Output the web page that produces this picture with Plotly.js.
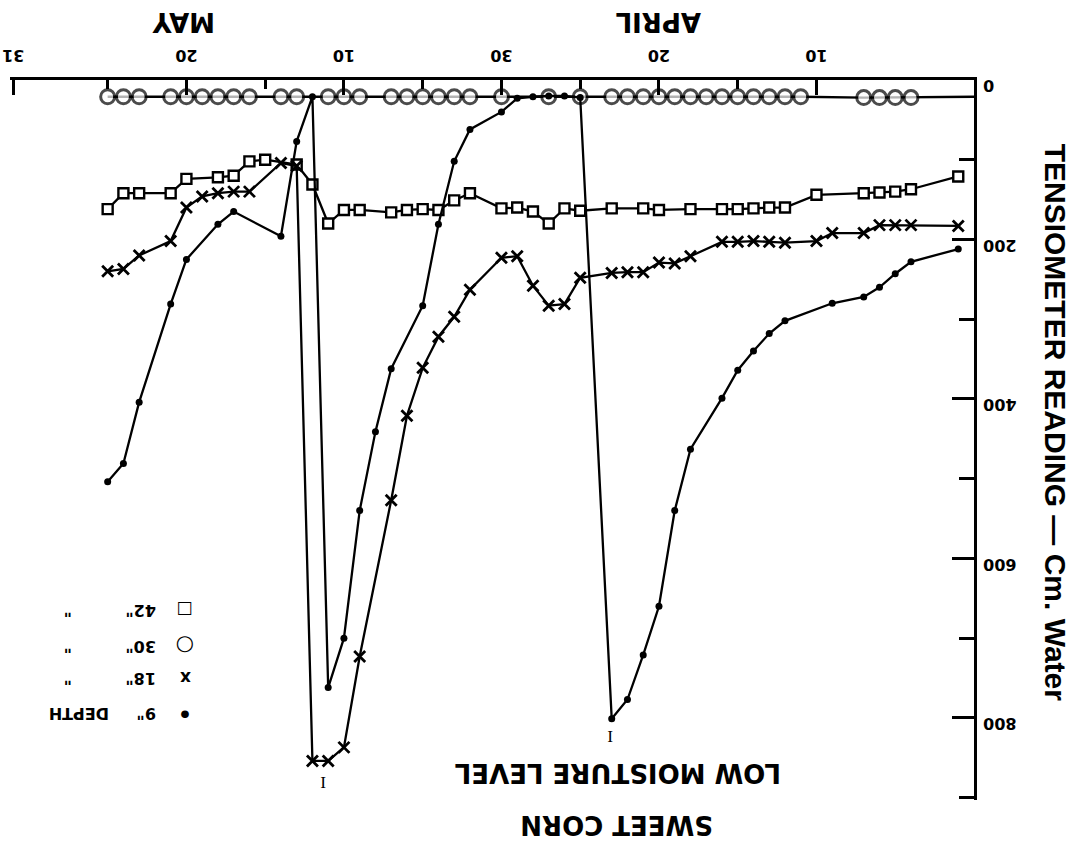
<!DOCTYPE html>
<html>
<head>
<meta charset="utf-8">
<script src="https://cdn.plot.ly/plotly-3.0.1.min.js"></script>
<style>
html, body { margin: 0; padding: 0; background: #ffffff; overflow: hidden; }
#chart { width: 1074px; height: 855px; transform: rotate(180deg); transform-origin: 50% 50%; }
</style>
</head>
<body>
<div id="chart"></div>
<script>
// Day index: April d -> d, May d -> 30 + d
const days9 = [1,4,5,6,7,9,12,13,14,15,16,18,19,20,21,22,23,25,26,27,28,29,30,32,33,34,35,37,38,39,40,41,42,43,44,47,48,50,51,53,54,55];
const depth9 = [212,228,243,260,272,280,302,318,340,364,399,463,540,660,721,777,801,22,20,20,21,23,40,62,102,181,283,362,441,540,700,762,21,77,196,165,181,225,281,404,481,504];

const days18 = [1,4,5,6,7,9,10,12,13,14,15,16,18,19,20,21,22,23,25,26,27,28,29,30,32,33,34,35,36,37,39,40,41,42,43,44,46,47,48,49,50,51,53,54,55];
const depth18 = [183,182,182,182,192,192,202,204,203,202,203,203,221,230,229,241,241,242,248,281,283,258,221,223,263,297,322,361,421,527,723,837,854,854,108,104,140,140,142,146,160,202,220,237,240];

const days30 = [0,4,5,6,7,11,12,13,14,15,16,17,18,19,20,21,22,23,25,27,30,32,33,34,35,36,37,39,40,41,43,44,46,47,48,49,50,51,53,54,55];
const depth30 = [21,22,22,22,22,21,21,21,21,21,21,21,21,21,21,21,21,21,21,21,21,21,21,21,21,21,21,21,21,21,21,21,21,21,21,21,21,21,21,21,21];

const days42 = [1,4,5,6,7,10,12,13,14,15,16,18,20,21,23,25,26,27,28,29,30,32,33,34,35,36,37,39,40,41,42,43,45,46,47,48,50,51,53,54,55];
const depth42 = [121,137,140,141,142,144,160,160,161,162,162,162,163,161,161,164,161,180,165,160,161,142,151,163,162,163,166,163,163,180,131,106,100,102,120,122,124,142,142,142,162];

const xTickVals = [10,20,30,40,50,61];
const xTickText = ['10','20','30','10','20','31'];
const xMinorVals = [15,25,35,45,55];
const yTickVals = [0,200,400,600,800];
const yTickText = ['0','200','400','600','800'];
const yMinorVals = [100,300,500,700,900];

const months = ['APRIL','MAY'];
const monthCenters = [20,50.2];

const legendSymbols = ['•','x','○','□'];
const legendDepths = ['9"','18"','30"','42"'];
const legendSuffix = ['DEPTH','"','"','"'];

const irrigationDays = [23, 41];

const titleMain = 'SWEET CORN';
const titleSub = 'LOW MOISTURE LEVEL';
const yTitle = 'TENSIOMETER READING — Cm. Water';

const BLACK = '#000000';
const LW = 2.3;

const traces = [
  {
    name: '42" depth', x: days42, y: depth42, type: 'scatter', mode: 'lines+markers',
    line: {color: BLACK, width: LW},
    marker: {symbol: 'square', size: 10, color: '#ffffff', line: {color: BLACK, width: 2.4}}
  },
  {
    name: '30" depth', x: days30, y: depth30, type: 'scatter', mode: 'lines+markers',
    line: {color: BLACK, width: LW},
    marker: {symbol: 'circle', size: days30.map(d => d > 0 ? 14 : 0), color: '#ffffff', line: {color: BLACK, width: 3}}
  },
  {
    name: '18" depth', x: days18, y: depth18, type: 'scatter', mode: 'lines+markers',
    line: {color: BLACK, width: LW},
    marker: {symbol: 'x-thin', size: 11, color: BLACK, line: {color: BLACK, width: 2.8}}
  },
  {
    name: '9" depth', x: days9, y: depth9, type: 'scatter', mode: 'lines+markers',
    line: {color: BLACK, width: LW},
    marker: {symbol: 'circle', size: 7, color: BLACK}
  }
];

const annotations = [];
// titles
annotations.push({text: titleMain, xref: 'x', yref: 'paper', x: 22.7, y: 1.035, showarrow: false,
  xanchor: 'center', yanchor: 'middle', font: {family: 'DejaVu Sans', size: 26, color: BLACK, weight: 'bold'}});
annotations.push({text: titleSub, xref: 'x', yref: 'y', x: 22.6, y: 869, showarrow: false,
  xanchor: 'center', yanchor: 'middle', font: {family: 'DejaVu Sans', size: 26, color: BLACK, weight: 'bold'}});
// y axis title
annotations.push({text: yTitle, xref: 'paper', yref: 'paper', x: -0.085, y: 0.476, textangle: -90, showarrow: false,
  xanchor: 'center', yanchor: 'middle', font: {family: 'Liberation Sans', size: 30, color: BLACK, weight: 'bold'}});
// months
months.forEach((m, i) => annotations.push({text: m, xref: 'x', yref: 'paper', x: monthCenters[i], y: -0.081,
  showarrow: false, xanchor: 'center', yanchor: 'middle', font: {family: 'DejaVu Sans', size: 26, color: BLACK, weight: 'bold'}}));
// legend
const legendY = [794, 750, 710, 665];
legendSymbols.forEach((s, i) => {
  annotations.push({text: s, xref: 'x', yref: 'y', x: 50.06, y: legendY[i], showarrow: false, xanchor: 'center', yanchor: 'middle',
    font: {family: 'DejaVu Sans', size: i === 0 ? 22 : (i === 2 ? 21 : 17), color: BLACK, weight: 'bold'}});
  annotations.push({text: legendDepths[i], xref: 'x', yref: 'y', x: 51.8, y: legendY[i], showarrow: false, xanchor: 'left', yanchor: 'middle',
    font: {family: 'DejaVu Sans', size: 16, color: BLACK, weight: 'bold'}});
  annotations.push({text: legendSuffix[i], xref: 'x', yref: 'y', x: i === 0 ? 54.8 : 57.5, y: legendY[i], showarrow: false,
    xanchor: i === 0 ? 'left' : 'center', yanchor: 'middle',
    font: {family: 'DejaVu Sans', size: 16, color: BLACK, weight: 'bold'}});
});
// irrigation marks
irrigationDays.forEach((d, i) => {
  const src = i === 0 ? {x: days9, y: depth9} : {x: days18, y: depth18};
  const v = src.y[src.x.indexOf(d)];
  annotations.push({text: 'I', xref: 'x', yref: 'y', x: d, y: v, yshift: i === 0 ? 18 : 22, xshift: i === 0 ? 2 : 5, showarrow: false,
    xanchor: 'center', yanchor: 'middle', font: {family: 'Liberation Serif', size: 17, color: BLACK}});
});

const axisFont = {family: 'DejaVu Sans', size: 16, color: BLACK, weight: 'bold'};

const layout = {
  width: 1074, height: 855,
  margin: {l: 100, r: 10, t: 55, b: 80},
  paper_bgcolor: '#ffffff', plot_bgcolor: '#ffffff',
  showlegend: false,
  xaxis: {
    range: [0, 61.2], showgrid: false, zeroline: false, showline: true, linecolor: BLACK, linewidth: 3,
    ticks: 'inside', tickmode: 'array', tickvals: xTickVals, ticktext: xTickText,
    ticklen: 15, tickwidth: 3, tickcolor: BLACK, tickfont: axisFont, ticklabelstandoff: 8,
    minor: {tickmode: 'array', tickvals: xMinorVals, ticks: 'inside', ticklen: 9, tickwidth: 3, tickcolor: BLACK, showgrid: false}
  },
  yaxis: {
    range: [0, 903], showgrid: false, zeroline: false, showline: true, linecolor: BLACK, linewidth: 3,
    ticks: 'inside', tickmode: 'array', tickvals: yTickVals, ticktext: yTickText,
    ticklen: 22, tickwidth: 3, tickcolor: BLACK, tickfont: axisFont, ticklabelshift: -6, ticklabelstandoff: 3,
    minor: {tickmode: 'array', tickvals: yMinorVals, ticks: 'inside', ticklen: 15, tickwidth: 3, tickcolor: BLACK, showgrid: false}
  },
  annotations: annotations
};

Plotly.newPlot('chart', traces, layout, {displayModeBar: false, staticPlot: true});
</script>
</body>
</html>
